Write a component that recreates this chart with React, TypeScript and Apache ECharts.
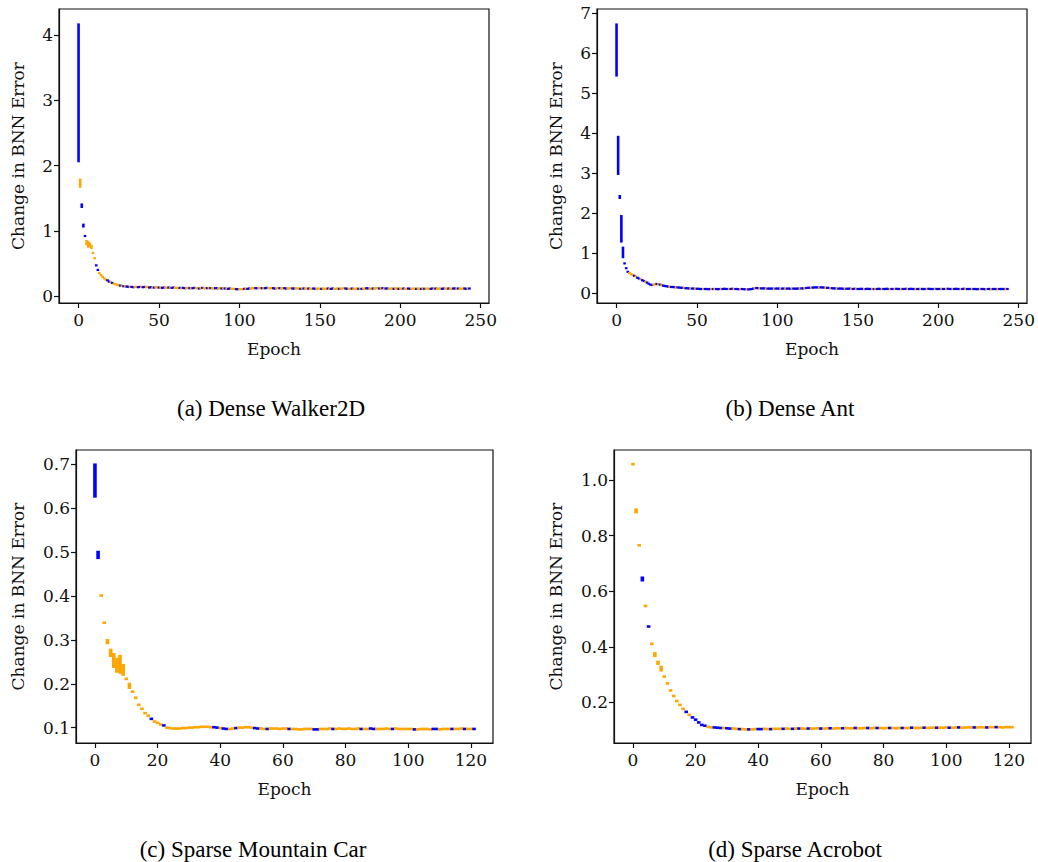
import React, { useEffect, useRef } from "react";
import * as echarts from "echarts";

type V = number | [number, number];

const BLUE = "#0000ff";
const ORANGE = "#ffa500";

// ---------- (a) Dense Walker2D : epochs 0..243 ----------
const walkerHead: V[] = [
  [2.05, 4.18], [1.66, 1.8], [1.35, 1.42], [1.05, 1.11], 0.92,
  [0.78, 0.86], [0.74, 0.84], [0.75, 0.82], [0.72, 0.78], 0.66,
  0.58, 0.47, 0.4, 0.35, 0.32,
  0.29, 0.27, 0.25, 0.24, 0.22,
  0.21, 0.2, 0.19, 0.18, 0.17,
  0.165, 0.16, 0.155, 0.15, 0.15,
  0.145,
];
const walkerTail: number[] = [
  0.14, 0.14, 0.14, 0.135, 0.14, 0.14, 0.135, 0.14, 0.14, 0.135,
  0.14, 0.135, 0.14, 0.13, 0.135, 0.13, 0.13, 0.135, 0.13, 0.13,
  0.13, 0.125, 0.13, 0.13, 0.125, 0.13, 0.125, 0.125, 0.13, 0.125,
  0.125, 0.12, 0.125, 0.12, 0.125, 0.12, 0.12, 0.125, 0.12, 0.12,
  0.12, 0.125, 0.12, 0.12, 0.115, 0.12, 0.125, 0.12, 0.12, 0.12,
  0.125, 0.12, 0.12, 0.115, 0.12, 0.12, 0.115, 0.12, 0.115, 0.12,
  0.115, 0.115, 0.11, 0.115, 0.11, 0.11, 0.11, 0.105, 0.105, 0.105,
  0.105, 0.105, 0.11, 0.11, 0.11, 0.115, 0.115, 0.12, 0.12, 0.12,
  0.12, 0.125, 0.12, 0.12, 0.12, 0.12, 0.125, 0.12, 0.12, 0.12,
  0.12, 0.115, 0.12, 0.12, 0.12, 0.115, 0.12, 0.12, 0.115, 0.12,
  0.115, 0.12, 0.115, 0.115, 0.12, 0.115, 0.115, 0.11, 0.115, 0.115,
  0.115, 0.11, 0.115, 0.115, 0.11, 0.115, 0.11, 0.11, 0.115, 0.11,
  0.11, 0.115, 0.11, 0.11, 0.115, 0.11, 0.11, 0.115, 0.11, 0.11,
  0.115, 0.11, 0.11, 0.115, 0.12, 0.115, 0.11, 0.11, 0.11, 0.115,
  0.11, 0.11, 0.115, 0.11, 0.11, 0.11, 0.115, 0.11, 0.12, 0.115,
  0.115, 0.11, 0.115, 0.115, 0.12, 0.12, 0.115, 0.115, 0.12, 0.115,
  0.115, 0.115, 0.11, 0.115, 0.115, 0.11, 0.115, 0.115, 0.11, 0.115,
  0.11, 0.115, 0.11, 0.11, 0.115, 0.11, 0.11, 0.115, 0.11, 0.11,
  0.115, 0.11, 0.11, 0.115, 0.11, 0.11, 0.115, 0.11, 0.11, 0.115,
  0.11, 0.115, 0.11, 0.115, 0.115, 0.11, 0.115, 0.115, 0.11, 0.115,
  0.115, 0.11, 0.115, 0.115, 0.11, 0.115, 0.115, 0.11, 0.115, 0.115,
  0.11, 0.115, 0.115,
];
const walkerColors =
  "BOBBBOOOOOOBBOOOOOBBOBOOOOBOBOB" +
  "BOBBOOBBOB" + "BOOBBOBOOB" + "OBBOOBOBBO" + "OOBOBBOOBO" + "BBOOBOBOOB" +
  "OBOOBBOOBO" + "BOBBOOOBBO" + "OOBOBBOOOB" + "BOOBOBBOOO" + "BBOOBOOBBO" +
  "OOBBOOOBOB" + "OOBOOBBOOO" + "BOOOBOBBOO" + "OBOOOBBOOB" + "OOOBOBOOBB" +
  "OOBOOOBOBO" + "BBOOOBOOBO" + "OBOOBBOOOB" + "OOBOBOOOBB" + "OBOOOBBOOB" +
  "OOBBOBOOOB" + "BOB";

// ---------- (b) Dense Ant : epochs 0..243 ----------
const antHead: V[] = [
  [5.41, 6.74], [2.95, 3.93], [2.35, 2.45], [1.26, 1.95], [0.87, 1.16],
  0.74, 0.62, 0.53, 0.5, 0.47,
  0.45, 0.43, 0.41, 0.38, 0.36,
  0.34, 0.32, 0.3, 0.28, 0.26,
  0.23, 0.21, 0.2, 0.21, 0.22,
  0.225, 0.22, 0.21, 0.195, 0.185,
  0.175,
];
const antTail: number[] = [
  0.17, 0.16, 0.155, 0.15, 0.15, 0.145, 0.14, 0.14, 0.135, 0.13,
  0.13, 0.125, 0.12, 0.12, 0.115, 0.115, 0.11, 0.11, 0.11, 0.105,
  0.105, 0.1, 0.1, 0.1, 0.1, 0.1, 0.095, 0.1, 0.1, 0.1,
  0.1, 0.1, 0.095, 0.1, 0.1, 0.1, 0.105, 0.1, 0.1, 0.1,
  0.1, 0.105, 0.1, 0.1, 0.1, 0.095, 0.1, 0.1, 0.095, 0.095,
  0.095, 0.09, 0.095, 0.1, 0.11, 0.12, 0.125, 0.12, 0.12, 0.115,
  0.115, 0.115, 0.11, 0.11, 0.11, 0.11, 0.11, 0.105, 0.11, 0.11,
  0.11, 0.105, 0.11, 0.11, 0.105, 0.11, 0.11, 0.105, 0.11, 0.11,
  0.105, 0.11, 0.11, 0.11, 0.115, 0.115, 0.12, 0.125, 0.13, 0.13,
  0.135, 0.135, 0.14, 0.14, 0.14, 0.135, 0.14, 0.14, 0.135, 0.13,
  0.13, 0.125, 0.12, 0.12, 0.115, 0.115, 0.11, 0.11, 0.11, 0.11,
  0.105, 0.11, 0.105, 0.105, 0.11, 0.105, 0.1, 0.105, 0.105, 0.1,
  0.1, 0.105, 0.1, 0.1, 0.1, 0.105, 0.1, 0.1, 0.1, 0.1,
  0.1, 0.1, 0.105, 0.1, 0.1, 0.1, 0.1, 0.105, 0.1, 0.1,
  0.1, 0.1, 0.1, 0.105, 0.1, 0.1, 0.1, 0.1, 0.1, 0.105,
  0.1, 0.1, 0.105, 0.1, 0.1, 0.1, 0.1, 0.1, 0.105, 0.1,
  0.1, 0.1, 0.1, 0.105, 0.1, 0.1, 0.1, 0.105, 0.1, 0.1,
  0.1, 0.105, 0.1, 0.1, 0.1, 0.105, 0.1, 0.1, 0.1, 0.1,
  0.105, 0.1, 0.1, 0.1, 0.1, 0.105, 0.1, 0.1, 0.1, 0.1,
  0.1, 0.1, 0.1, 0.095, 0.1, 0.1, 0.1, 0.1, 0.095, 0.1,
  0.1, 0.1, 0.095, 0.1, 0.1, 0.1, 0.095, 0.1, 0.1, 0.1,
  0.1, 0.1, 0.1,
];
const antColors =
  "BBBBBBBBOOOBOBBOBBOBBBBOOBOBOBB" +
  "BBOBBBOBBB" + "BOBBBOBBOB" + "BBBOBBBBOB" + "OBBBOBBBBO" + "BBOBBBOBBB" +
  "OBBBBOBBOB" + "BBOBBBBOBB" + "BOBBOBBBOB" + "BBBOBBOBBB" + "OBBBBOBBBO" +
  "BBOBBBOBBB" + "BOBBBOBBOB" + "BBBOBBBBOB" + "OBBBOBBBBO" + "BBOBBBOBBB" +
  "OBBBBOBBOB" + "BBOBBBBOBB" + "BOBBOBBBOB" + "BBBOBBOBBB" + "OBBBBOBBBO" +
  "BBOBBBOBBB" + "BOB";

// ---------- (c) Sparse Mountain Car : epochs 0..121 ----------
const carHead: V[] = [
  [0.624, 0.702], [0.484, 0.503], 0.401, 0.339, [0.29, 0.302],
  [0.261, 0.28], [0.236, 0.27], [0.225, 0.259], [0.223, 0.266], [0.218, 0.245],
  0.211, [0.188, 0.202], 0.182, 0.168, 0.152,
  0.143, 0.133, 0.127, 0.12, 0.114,
  0.111, 0.107, 0.105, 0.1,
];
const carTail: number[] = [
  0.099, 0.098, 0.098, 0.098, 0.099, 0.099, 0.1, 0.1, 0.101, 0.101,
  0.102, 0.102, 0.102, 0.101, 0.101, 0.1, 0.099, 0.098, 0.097, 0.097,
  0.098, 0.099, 0.1, 0.1, 0.101, 0.101, 0.1, 0.099, 0.098, 0.098,
  0.097, 0.097, 0.098, 0.098, 0.098, 0.097, 0.098, 0.098, 0.097, 0.097,
  0.097, 0.096, 0.096, 0.097, 0.097, 0.097, 0.096, 0.096, 0.097, 0.097,
  0.097, 0.098, 0.097, 0.097, 0.098, 0.097, 0.097, 0.098, 0.097, 0.097,
  0.098, 0.097, 0.097, 0.097, 0.098, 0.097, 0.097, 0.097, 0.097, 0.098,
  0.097, 0.097, 0.098, 0.097, 0.097, 0.097, 0.097, 0.097, 0.096, 0.096,
  0.097, 0.097, 0.097, 0.096, 0.097, 0.097, 0.096, 0.097, 0.097, 0.097,
  0.097, 0.097, 0.097, 0.098, 0.097, 0.097, 0.097, 0.097,
];
const carColors =
  "BBOOOOOOOOOOOOOOOOBOOOBO" +
  "OOOOOOOOOO" + "OOOOBBOBBO" + "OBOOOOOBBO" + "OBOOOOOOBO" + "OOOOOOBBOO" +
  "OOBOOOOOOO" + "OBOOBBOOOO" + "OBOOOOOOBO" + "OOOOBBOOOO" + "BOOOBOOB";

// ---------- (d) Sparse Acrobot : epochs 0..121 ----------
const acroHead: V[] = [
  1.057, [0.88, 0.898], 0.765, [0.635, 0.653], 0.547,
  0.473, 0.411, [0.363, 0.381], [0.335, 0.35], [0.311, 0.332],
  0.293, [0.264, 0.273], 0.243, 0.223, 0.205,
  0.191, 0.177, 0.166, 0.155, 0.146,
  0.138, 0.128, 0.119, 0.116, 0.112,
  0.11,
];
const acroTail: number[] = [
  0.11, 0.109, 0.108, 0.108, 0.107, 0.106, 0.106, 0.105, 0.104, 0.104,
  0.103, 0.103, 0.103, 0.104, 0.104, 0.104, 0.105, 0.104, 0.104, 0.105,
  0.105, 0.105, 0.105, 0.106, 0.105, 0.105, 0.106, 0.106, 0.106, 0.105,
  0.106, 0.106, 0.106, 0.107, 0.106, 0.106, 0.107, 0.107, 0.106, 0.107,
  0.107, 0.107, 0.108, 0.107, 0.107, 0.108, 0.107, 0.107, 0.108, 0.108,
  0.107, 0.108, 0.108, 0.108, 0.107, 0.108, 0.108, 0.108, 0.107, 0.108,
  0.108, 0.108, 0.108, 0.109, 0.108, 0.108, 0.109, 0.109, 0.108, 0.109,
  0.109, 0.109, 0.109, 0.109, 0.11, 0.109, 0.109, 0.11, 0.11, 0.109,
  0.11, 0.11, 0.11, 0.11, 0.11, 0.111, 0.11, 0.11, 0.111, 0.111,
  0.111, 0.111, 0.11, 0.111, 0.111, 0.111,
];
const acroColors =
  "OOOBOBOOOOOOOOOOOBOBBBBBOO" +
  "BBBOBBOOBO" + "OBOOBBOOBO" + "OOBOOBOBOO" + "BOOOBOOBOO" + "OBOOOBOOOB" +
  "OOBOOOBOOO" + "BOOBOOOBOO" + "OBOOOBOOBO" + "OOOBOOOBOO" + "BOOOOO";

// ---------- tick labels & captions ----------
const xTicksLong = [0, 50, 100, 150, 200, 250];
const xTicksShort = [0, 20, 40, 60, 80, 100, 120];
const yTicksWalker = [0, 1, 2, 3, 4];
const yTicksAnt = [0, 1, 2, 3, 4, 5, 6, 7];
const yTicksCar = [0.1, 0.2, 0.3, 0.4, 0.5, 0.6, 0.7];
const yTicksAcro = [0.2, 0.4, 0.6, 0.8, 1.0];
const captions = [
  "(a) Dense Walker2D",
  "(b) Dense Ant",
  "(c) Sparse Mountain Car",
  "(d) Sparse Acrobot",
];

function rows(values: V[], colors: string) {
  return values.map((v, i) => {
    const lo = Array.isArray(v) ? v[0] : v;
    const hi = Array.isArray(v) ? v[1] : v;
    return [i, lo, hi, colors[i] === "B" ? 1 : 0];
  });
}

const TICK_FONT = "'DejaVu Serif', serif";
const CAP_FONT = "'Liberation Serif', 'Times New Roman', serif";
const INK = "#111111";

export default function App() {
  const ref = useRef<HTMLDivElement>(null);

  useEffect(() => {
    if (!ref.current) return;
    const chart = echarts.init(ref.current, undefined, { renderer: "svg" });

    const panels = [
      {
        grid: { left: 59, top: 9, width: 430, height: 294 },
        x: [-12.15, 255.15], xt: xTicksLong,
        y: [-0.107, 4.4], yt: yTicksWalker, dec: 0,
        data: rows(walkerHead.concat(walkerTail), walkerColors),
        w: 2.6, minH: 2.2, yGap: 33,
      },
      {
        grid: { left: 597, top: 9, width: 430, height: 294 },
        x: [-12.15, 255.15], xt: xTicksLong,
        y: [-0.25, 7.1], yt: yTicksAnt, dec: 0,
        data: rows(antHead.concat(antTail), antColors),
        w: 2.6, minH: 2.2, yGap: 33,
      },
      {
        grid: { left: 76, top: 450, width: 417, height: 293 },
        x: [-6.05, 127.05], xt: xTicksShort,
        y: [0.065, 0.7326], yt: yTicksCar, dec: 1,
        data: rows(carHead.concat(carTail), carColors),
        w: 3.6, minH: 2.6, yGap: 50,
      },
      {
        grid: { left: 614, top: 450, width: 417, height: 293 },
        x: [-6.05, 127.05], xt: xTicksShort,
        y: [0.054, 1.108], yt: yTicksAcro, dec: 1,
        data: rows(acroHead.concat(acroTail), acroColors),
        w: 3.6, minH: 2.6, yGap: 50,
      },
    ];

    const axisCommon = {
      type: "value" as const,
      splitLine: { show: false },
      axisLine: { show: true, onZero: false, lineStyle: { color: INK, width: 1.2 } },
      nameLocation: "middle" as const,
      nameTextStyle: { fontFamily: TICK_FONT, fontSize: 17, color: INK },
    };

    const option: any = {
      animation: false,
      backgroundColor: "#ffffff",
      grid: panels.map((p) => ({
        ...p.grid,
        show: true,
        borderColor: INK,
        borderWidth: 1.2,
        backgroundColor: "transparent",
        containLabel: false,
      })),
      xAxis: panels.map((p, k) => ({
        ...axisCommon,
        gridIndex: k,
        min: p.x[0],
        max: p.x[1],
        name: "Epoch",
        nameGap: 37,
        axisTick: { show: true, length: 5, lineStyle: { color: INK, width: 1.2 }, customValues: p.xt },
        axisLabel: {
          customValues: p.xt,
          fontFamily: TICK_FONT,
          fontSize: 17,
          color: INK,
          margin: 8,
          formatter: (v: number) => String(v),
        },
      })),
      yAxis: panels.map((p, k) => ({
        ...axisCommon,
        gridIndex: k,
        min: p.y[0],
        max: p.y[1],
        name: "Change in BNN Error",
        nameGap: p.yGap,
        axisTick: { show: true, length: 5, lineStyle: { color: INK, width: 1.2 }, customValues: p.yt },
        axisLabel: {
          customValues: p.yt,
          fontFamily: TICK_FONT,
          fontSize: 17,
          color: INK,
          margin: 6,
          formatter: (v: number) => v.toFixed(p.dec),
        },
      })),
      series: panels.map((p, k) => ({
        type: "custom",
        coordinateSystem: "cartesian2d",
        xAxisIndex: k,
        yAxisIndex: k,
        clip: true,
        encode: { x: 0, y: [1, 2] },
        data: p.data,
        renderItem: (_params: any, api: any) => {
          const x = api.value(0);
          const lo = api.value(1);
          const hi = api.value(2);
          const c = api.value(3);
          const a = api.coord([x, lo]);
          const b = api.coord([x, hi]);
          const h = Math.max(p.minH, a[1] - b[1]);
          const cy = (a[1] + b[1]) / 2;
          return {
            type: "rect",
            shape: { x: a[0] - p.w / 2, y: cy - h / 2, width: p.w, height: h },
            style: { fill: c ? BLUE : ORANGE },
          };
        },
      })),
      graphic: [
        { x: 271, y: 408, text: captions[0] },
        { x: 790, y: 408, text: captions[1] },
        { x: 253, y: 849, text: captions[2] },
        { x: 795, y: 849, text: captions[3] },
      ].map((c) => ({
        type: "text",
        x: c.x,
        y: c.y,
        style: {
          text: c.text,
          fontFamily: CAP_FONT,
          fontSize: 23,
          fill: "#000",
          textAlign: "center",
          textVerticalAlign: "middle",
        },
      })),
    };

    chart.setOption(option);
    return () => chart.dispose();
  }, []);

  return (
    <div
      ref={ref}
      style={{ position: "fixed", left: 0, top: 0, width: 1038, height: 862, background: "#fff" }}
    />
  );
}
